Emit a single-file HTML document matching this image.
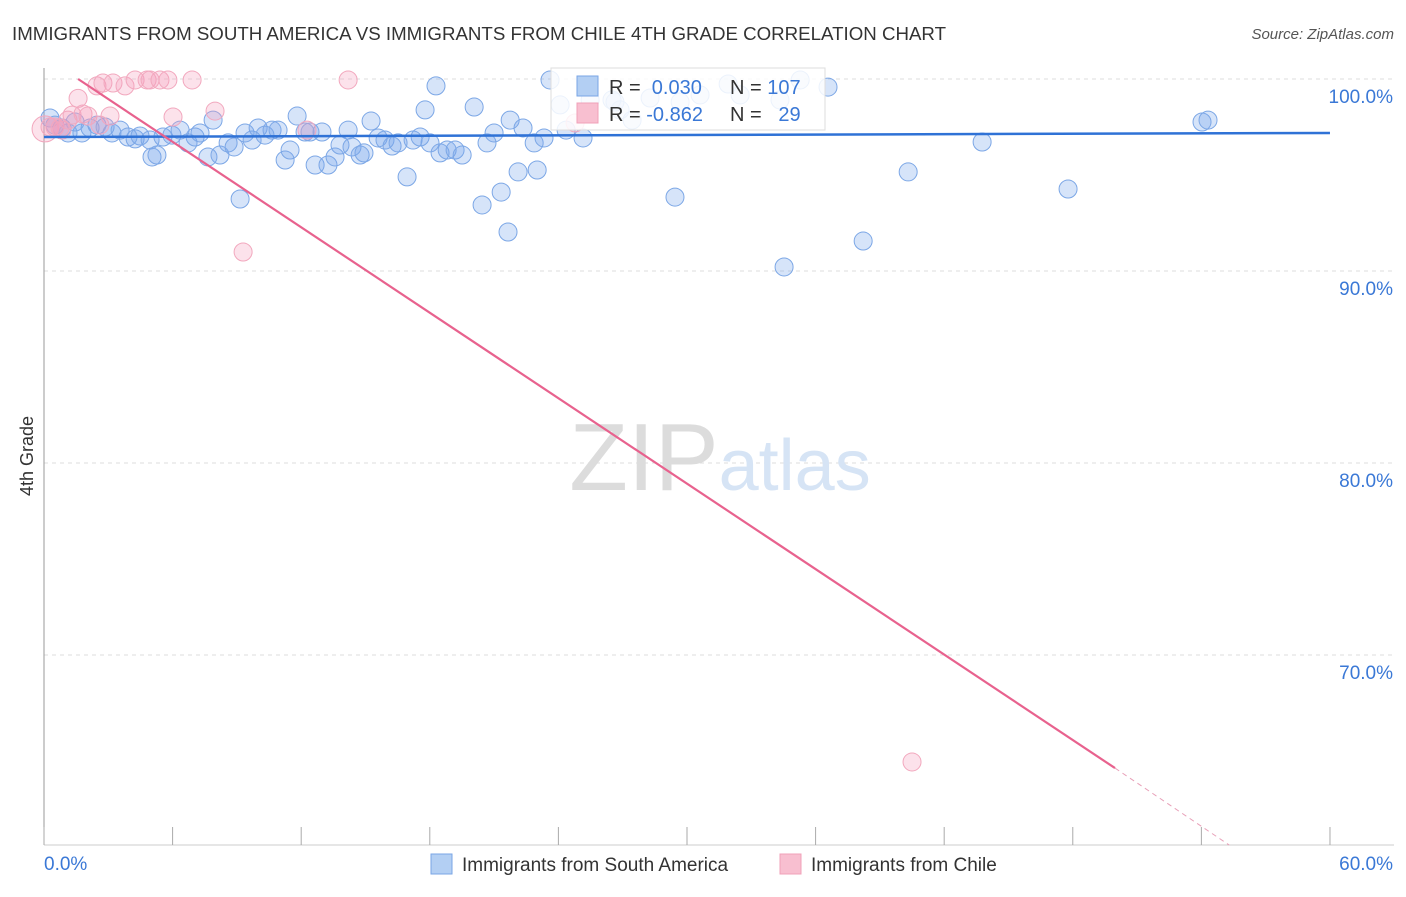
<!DOCTYPE html>
<html><head><meta charset="utf-8"><style>
body{margin:0;background:#fff;font-family:"Liberation Sans",sans-serif;}
svg text{font-family:"Liberation Sans",sans-serif;}
</style></head><body>
<svg id="c" width="1406" height="892" xmlns="http://www.w3.org/2000/svg">
<text x="12" y="40" font-size="18" fill="#333" textLength="934" lengthAdjust="spacingAndGlyphs">IMMIGRANTS FROM SOUTH AMERICA VS IMMIGRANTS FROM CHILE 4TH GRADE CORRELATION CHART</text>
<text x="1394" y="39" font-size="15" fill="#555" text-anchor="end" font-style="italic">Source: ZipAtlas.com</text>
<text x="33" y="456" font-size="18" fill="#333" text-anchor="middle" transform="rotate(-90 33 456)">4th Grade</text>
<g id="grid"></g>
<text x="720" y="490" font-size="96" fill="#e0e0e0" text-anchor="middle" font-family="Liberation Serif"><tspan fill="#dcdcdc">ZIP</tspan><tspan fill="#d6e4f5" font-family="Liberation Sans" font-size="72">atlas</tspan></text>
<g id="marks"></g>
<g>
<rect x="551" y="68" width="274" height="62" fill="#fff" fill-opacity="0.85" stroke="#ddd"/>
<rect x="577" y="76" width="21" height="20" fill="#b3cff3" stroke="#7aa6e6"/>
<rect x="577" y="103" width="21" height="20" fill="#f8bfd0" stroke="#f0a0b8"/>
<text x="609" y="94" font-size="20" fill="#333">R = <tspan fill="#3a78d6">&#160;0.030</tspan><tspan x="730">N = </tspan><tspan fill="#3a78d6">107</tspan></text>
<text x="609" y="121" font-size="20" fill="#333">R = <tspan fill="#3a78d6">-0.862</tspan><tspan x="730">N = </tspan><tspan fill="#3a78d6">&#160;&#160;29</tspan></text>
</g>
<g>
<rect x="431" y="854" width="21" height="20" fill="#b3cff3" stroke="#7aa6e6"/>
<text x="462" y="871" font-size="19" fill="#333">Immigrants from South America</text>
<rect x="780" y="854" width="21" height="20" fill="#f8bfd0" stroke="#f0a0b8"/>
<text x="811" y="871" font-size="19" fill="#333">Immigrants from Chile</text>
</g>
</svg>
<script>
const xTicks=[0,6,12,18,24,30,36,42,48,54,60];
const yTicks=[100,90,80,70];
const blueX=[0.28,0.51,0.84,1.12,1.45,1.77,2.15,2.47,2.85,3.17,3.55,3.92,4.25,4.48,4.95,5.04,5.27,5.55,5.97,6.35,6.72,7.05,7.28,7.65,7.89,8.21,8.59,8.87,9.15,9.38,9.71,9.99,10.31,10.64,10.92,11.25,11.48,11.81,12.18,12.41,12.65,12.97,13.25,13.58,13.81,14.19,14.37,14.75,14.93,15.26,15.59,15.91,16.24,16.52,16.94,17.22,17.55,17.78,18.01,18.29,18.48,18.81,19.18,19.51,20.07,20.44,20.67,21.00,21.33,21.65,21.75,22.12,22.35,22.87,23.01,23.33,23.61,24.36,25.15,26.50,26.88,27.44,29.44,31.92,32.48,34.53,35.28,36.58,38.22,40.32,43.77,47.78,54.03,54.31,24.08,25.48,26.64,28.28,29.68,30.61,34.34];
const blueY=[97.97,97.6,97.45,97.19,97.76,97.19,97.45,97.6,97.5,97.19,97.34,96.98,96.88,97.03,96.82,95.94,96.04,96.98,97.08,97.34,96.67,96.98,97.19,95.94,97.86,96.04,96.67,96.46,93.75,97.19,96.82,97.45,97.08,97.34,97.34,95.78,96.3,98.07,97.24,97.24,95.52,97.24,95.52,95.94,96.56,97.34,96.46,96.04,96.15,97.81,96.93,96.82,96.51,96.67,94.9,96.82,96.98,98.39,96.67,99.64,96.15,96.3,96.3,96.04,98.54,93.44,96.67,97.19,94.11,92.03,97.86,95.16,97.45,96.67,95.26,96.93,99.95,97.34,96.93,98.91,98.39,97.86,93.85,99.74,99.17,90.21,99.95,99.58,91.56,95.16,96.72,94.27,97.76,97.86,98.65,98.91,98.8,99.01,98.8,99.17,98.91];
const pinkX=[0.05,0.28,0.51,0.84,1.12,1.31,1.59,1.82,2.05,2.47,2.75,3.08,3.22,3.78,4.25,4.81,4.95,5.41,5.78,6.02,6.91,7.98,9.29,12.27,14.19,24.78,40.5,0.75,2.61];
const pinkY=[97.4,97.5,97.5,97.34,97.86,98.12,98.99,98.18,98.07,99.64,99.79,98.07,99.79,99.64,99.95,99.95,99.95,99.95,99.95,98.02,99.95,98.33,90.99,97.34,99.95,97.71,64.43,97.45,97.6];
const blueFit=[96.98,97.19];
const pinkFitX=[1.59,49.97,55.3];
const pinkFitY=[100,64.11,60.1];
const X=v=>44+v*21.433, Y=v=>79+(100-v)*19.2;
const NS='http://www.w3.org/2000/svg';
function mk(p,t,a){const e=document.createElementNS(NS,t);for(const k in a)e.setAttribute(k,a[k]);p.appendChild(e);return e;}
const g=document.getElementById('grid'),m=document.getElementById('marks');
yTicks.forEach(v=>{
 const l=mk(g,'line',{x1:44,x2:1394,y1:Y(v),y2:Y(v),stroke:'#ddd','stroke-dasharray':'4,4'});
 
 
 const t=mk(g,'text',{x:1393,y:Y(v)+24,'font-size':19,fill:'#3a78d6','text-anchor':'end'});
 t.textContent=v.toFixed(1)+'%';
 
 
});
const ax=mk(g,'line',{x1:44,x2:44,y1:68,y2:845,stroke:'#999'});


const bx=mk(g,'line',{x1:44,x2:1394,y1:845,y2:845,stroke:'#ccc'});


xTicks.forEach(v=>{
 const l=mk(g,'line',{x1:X(v),x2:X(v),y1:827,y2:845,stroke:'#aaa'});
 
 
});
[[0,'start',44],[60,'end',1393]].forEach(([v,a,x])=>{
 const t=mk(g,'text',{x:x,y:870,'font-size':19,fill:'#3a78d6','text-anchor':a});
 t.textContent=v.toFixed(1)+'%';
 
 
});
blueX.forEach((v,i)=>{
 const c=mk(m,'circle',{cx:X(v),cy:Y(blueY[i]),r:9,fill:'rgba(120,165,235,0.3)',stroke:'#7ca7e6','stroke-width':1});
 
 
});
pinkX.forEach((v,i)=>{
 const c=mk(m,'circle',{cx:X(v),cy:Y(pinkY[i]),r:i==0?13:9,fill:'rgba(245,160,190,0.3)',stroke:'#f2a8be','stroke-width':1});
 
 
});
const bl=mk(m,'line',{x1:X(0),x2:X(60),y1:Y(blueFit[0]),y2:Y(blueFit[1]),stroke:'#2f72d6','stroke-width':2.5});


const pl=mk(m,'line',{x1:X(pinkFitX[0]),x2:X(pinkFitX[1]),y1:Y(pinkFitY[0]),y2:Y(pinkFitY[1]),stroke:'#e8628e','stroke-width':2.2});


const pd=mk(m,'line',{x1:X(pinkFitX[1]),x2:X(pinkFitX[2]),y1:Y(pinkFitY[1]),y2:Y(pinkFitY[2]),stroke:'#e8a0b8','stroke-width':1,'stroke-dasharray':'5,4'});


</script>
</body></html>
